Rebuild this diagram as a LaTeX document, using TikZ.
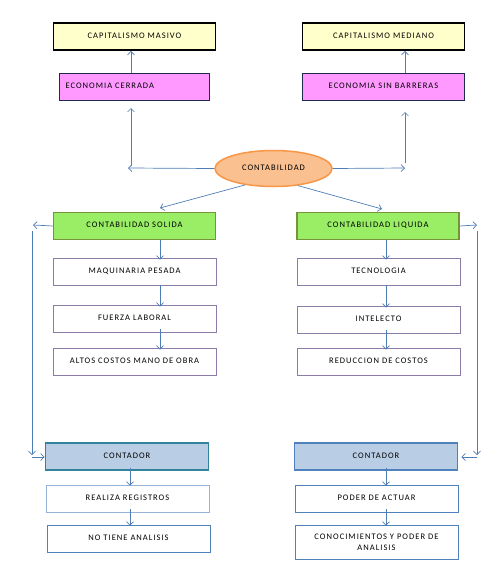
\documentclass[tikz,border=0pt]{standalone}
\usepackage{fontspec}
\setmainfont{Carlito}[LetterSpace=12]
\usetikzlibrary{arrows.meta,shapes.geometric}
\definecolor{cyel}{HTML}{FFFFCC}
\definecolor{cvio}{HTML}{FF99FF}
\definecolor{cviob}{HTML}{1F2A4F}
\definecolor{cgrn}{HTML}{99EE66}
\definecolor{cgrnb}{HTML}{77933C}
\definecolor{corf}{HTML}{FAC08F}
\definecolor{corb}{HTML}{F79646}
\definecolor{carr}{HTML}{4F7DB5}
\definecolor{cwb}{HTML}{8A7BA8}
\definecolor{cblu}{HTML}{B9CDE5}
\definecolor{cteal}{HTML}{31849B}
\definecolor{cbb}{HTML}{4F81BD}
\definecolor{clb}{HTML}{95B3D7}
\newcommand{\up}[1]{\raisebox{2.5pt}{#1}}
\tikzset{
  base/.style={rectangle, minimum height=27pt, inner sep=0pt, font=\fontsize{8.5}{11}\selectfont, align=center},
  topbox/.style={base, fill=cyel, draw=black, line width=1.8pt, minimum width=162pt},
  viobox/.style={base, fill=cvio, draw=cviob, line width=1.8pt, minimum width=150pt},
  grnbox/.style={base, fill=cgrn, draw=cgrnb, line width=1.5pt, minimum width=162pt},
  wbox/.style={base, fill=white, draw=cwb, line width=0.7pt, minimum width=163pt},
  ctbox/.style={base, fill=cblu, line width=1.6pt, minimum width=163pt},
  arr/.style={draw=carr, line width=0.7pt, -{Straight Barb[length=3.5pt,width=7pt]}},
  ln/.style={draw=carr, line width=0.7pt}
}
\begin{document}
\begin{tikzpicture}[x=1pt,y=-1pt]
\useasboundingbox (0,0) rectangle (503,574);
% top row
\node[topbox] (cm) at (134.5,36.5) {\up{CAPITALISMO MASIVO}};
\node[topbox] (cmed) at (383.5,36.5) {\up{CAPITALISMO MEDIANO}};
\node[viobox, text width=138pt, align=left, inner xsep=6pt] (ec) at (134.5,87) {\up{ECONOMIA CERRADA}};
\node[viobox, minimum width=162pt] (esb) at (383.5,87) {\up{ECONOMIA SIN BARRERAS}};
% ellipse
\node[ellipse, fill=corf, draw=corb, line width=1.5pt, minimum width=117pt, minimum height=36pt, inner sep=0pt, font=\fontsize{8.5}{11}\selectfont] (cont) at (273.5,168.5) {\up{CONTABILIDAD}};
% green
\node[grnbox] (cs) at (134.5,226) {\up{CONTABILIDAD SOLIDA}};
\node[grnbox] (cl) at (378,226) {\up{CONTABILIDAD LIQUIDA}};
% white boxes left
\node[wbox] (mp) at (134.5,271.5) {\up{MAQUINARIA PESADA}};
\node[wbox] (fl) at (134.5,318.5) {\up{FUERZA LABORAL}};
\node[wbox] (ac) at (134.5,361.5) {\up{ALTOS COSTOS MANO DE OBRA}};
% white boxes right
\node[wbox] (tec) at (378.5,271.5) {\up{TECNOLOGIA}};
\node[wbox] (int) at (378.5,319.5) {\up{INTELECTO}};
\node[wbox] (red) at (378.5,361.5) {\up{REDUCCION  DE COSTOS}};
% contador
\node[ctbox, draw=cteal] (ctl) at (127,456.5) {\up{CONTADOR}};
\node[ctbox, draw=cbb] (ctr) at (376,456.5) {\up{CONTADOR}};
\node[base, fill=white, draw=clb, line width=0.7pt, minimum width=163pt] (rr) at (127.5,498.5) {\up{REALIZA REGISTROS}};
\node[base, fill=white, draw=cbb, line width=0.7pt, minimum width=163pt] (nta) at (128.5,538.5) {\up{NO TIENE ANALISIS}};
\node[base, fill=white, draw=cbb, line width=0.7pt, minimum width=163pt] (pda) at (376.5,498.5) {\up{PODER DE ACTUAR}};
\node[base, fill=white, draw=cbb, line width=0.7pt, minimum width=163pt, minimum height=34pt] (cpa) at (376.5,542) {CONOCIMIENTOS Y PODER DE\\ANALISIS};
% coordinates
\coordinate (hl) at (128,168);
\coordinate (hr) at (405,168);
\coordinate (vl) at (131,166);
\coordinate (vlt) at (131,108);
\coordinate (vr) at (405,163);
\coordinate (vrt) at (405,112);
\coordinate (ll) at (33,225);
\coordinate (lv1) at (32,231);
\coordinate (lv2) at (32,455);
\coordinate (lh) at (32,457);
\coordinate (rr1) at (477,225);
\coordinate (rv1) at (477,231);
\coordinate (rv2) at (477,455);
\coordinate (rh) at (477,457);
% connectors top
\draw[arr] (ec.north -| 131,0) -- (cm.south -| 131,0);
\draw[arr] (esb.north -| 405,0) -- (cmed.south -| 405,0);
\draw[arr] (cont.west) -- (hl);
\draw[arr] (vl) -- (vlt);
\draw[arr] (cont.east) -- (hr);
\draw[arr] (vr) -- (vrt);
\draw[arr] (cont.-150) -- (160,208);
\draw[arr] (cont.-35) -- (382,209);
% left column
\draw[arr] (cs.west) -- (ll);
\draw[arr] (lv1) -- (lv2);
\draw[arr] (lh) -- (ctl.west |- lh);
\draw[arr] (cs.south -| 160,0) -- ([yshift=-2pt]mp.north -| 160,0);
\draw[arr] (mp.south -| 160,0) -- ([yshift=-2pt]fl.north -| 160,0);
\draw[arr] ([yshift=3pt]fl.south -| 160,0) -- ([yshift=-2pt]ac.north -| 160,0);
% right column
\draw[arr] (cl.east) -- (rr1);
\draw[arr] (rv1) -- (rv2);
\draw[arr] (rh) -- ([xshift=3pt]ctr.east |- rh);
\draw[arr] (cl.south -| 386,0) -- ([yshift=-2pt]tec.north -| 386,0);
\draw[arr] (tec.south -| 386,0) -- ([yshift=-2pt]int.north -| 386,0);
\draw[arr] ([yshift=3pt]int.south -| 386,0) -- ([yshift=-2pt]red.north -| 386,0);
% contador columns
\draw[arr] ([yshift=3pt]ctl.south -| 130,0) -- ([yshift=-1pt]rr.north -| 130,0);
\draw[arr] ([yshift=3pt]rr.south -| 130,0) -- ([yshift=-1pt]nta.north -| 130,0);
\draw[arr] ([yshift=3pt]ctr.south -| 386,0) -- ([yshift=-1pt]pda.north -| 386,0);
\draw[arr] ([yshift=3pt]pda.south -| 386,0) -- ([yshift=-1pt]cpa.north -| 386,0);
\end{tikzpicture}
\end{document}
